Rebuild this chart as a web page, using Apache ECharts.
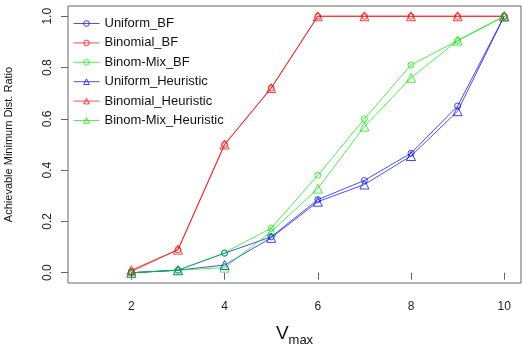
<!DOCTYPE html>
<html><head><meta charset="utf-8">
<script src="https://cdn.jsdelivr.net/npm/echarts@6/dist/echarts.min.js"></script>
<style>html,body{margin:0;padding:0;background:#fff}#c{width:522px;height:347px}</style>
</head><body><div id="c"></div>
<script>
const vmax = [2, 3, 4, 5, 6, 7, 8, 9, 10];
const uniformBF = [0.0, 0.01, 0.076, 0.14, 0.285, 0.36, 0.466, 0.65, 1.0];
const binomialBF = [0.005, 0.09, 0.5, 0.72, 1.0, 1.0, 1.0, 1.0, 1.0];
const binomMixBF = [0.0, 0.01, 0.078, 0.174, 0.38, 0.60, 0.81, 0.905, 1.0];
const uniformHeur = [0.0, 0.01, 0.03, 0.136, 0.277, 0.344, 0.455, 0.63, 1.0];
const binomialHeur = [0.01, 0.09, 0.5, 0.72, 1.0, 1.0, 1.0, 1.0, 1.0];
const binomMixHeur = [0.0, 0.01, 0.02, 0.16, 0.328, 0.57, 0.76, 0.905, 1.0];
const xTicks = [2, 4, 6, 8, 10];
const yTicks = [0, 0.2, 0.4, 0.6, 0.8, 1.0];

const BLUE = '#0000ff', RED = '#ff0000', GREEN = '#00ee00';
function mk(name, vals, color, sym, size) {
  return {
    name, type: 'line', data: vmax.map((v, i) => [v, vals[i]]),
    symbol: sym, symbolSize: size, showSymbol: true,
    lineStyle: { color, width: 1, opacity: 0.7 },
    itemStyle: { color: 'rgba(255,255,255,0)', borderColor: color, borderWidth: 1, opacity: 0.75 },
    emphasis: { disabled: true }, animation: false
  };
}
const chart = echarts.init(document.getElementById('c'));
chart.setOption({
  animation: false,
  textStyle: { fontFamily: 'Liberation Sans, Arial, sans-serif' },
  grid: { left: 68, right: 1, top: 6, bottom: 64, show: true, borderColor: '#666', borderWidth: 1, backgroundColor: '#fff', containLabel: false, outerBoundsMode: 'none' },
  legend: {
    orient: 'vertical', left: 68, top: 12, itemWidth: 26, itemHeight: 7, itemGap: 6.4,
    itemStyle: { borderWidth: 1 }, lineStyle: { width: 1 },
    textStyle: { fontSize: 13, color: '#111', fontFamily: 'Liberation Sans, Arial, sans-serif' },
    data: ['Uniform_BF', 'Binomial_BF', 'Binom-Mix_BF', 'Uniform_Heuristic', 'Binomial_Heuristic', 'Binom-Mix_Heuristic']
  },
  xAxis: {
    type: 'value', min: 0.64, max: 10.36,
    name: '{a|V}{b|max}', nameLocation: 'middle', nameGap: 37,
    nameTextStyle: { rich: { a: { fontSize: 19, color: '#111', fontFamily: 'Liberation Sans' }, b: { fontSize: 13, color: '#111', padding: [14, 0, 0, 0], fontFamily: 'Liberation Sans' } } },
    splitLine: { show: false },
    axisLine: { show: false },
    axisTick: { show: true, length: 7, customValues: xTicks, lineStyle: { color: '#666' } },
    axisLabel: { customValues: xTicks, margin: 18, fontSize: 12, color: '#222' }
  },
  yAxis: {
    type: 'value', min: -0.04, max: 1.04,
    name: 'Achievable Minimum Dist. Ratio', nameLocation: 'middle', nameGap: 54,
    nameTextStyle: { fontSize: 11, color: '#111' },
    splitLine: { show: false },
    axisLine: { show: false },
    axisTick: { show: true, length: 7, customValues: yTicks, lineStyle: { color: '#666' } },
    axisLabel: { customValues: yTicks, rotate: 90, margin: 14, fontSize: 12, color: '#222', formatter: v => v.toFixed(1) }
  },
  series: [
    mk('Uniform_BF', uniformBF, BLUE, 'circle', 6),
    mk('Binomial_BF', binomialBF, RED, 'circle', 6),
    mk('Binom-Mix_BF', binomMixBF, GREEN, 'circle', 6),
    mk('Uniform_Heuristic', uniformHeur, BLUE, 'triangle', 9),
    mk('Binomial_Heuristic', binomialHeur, RED, 'triangle', 9),
    mk('Binom-Mix_Heuristic', binomMixHeur, GREEN, 'triangle', 9)
  ]
});
</script></body></html>
